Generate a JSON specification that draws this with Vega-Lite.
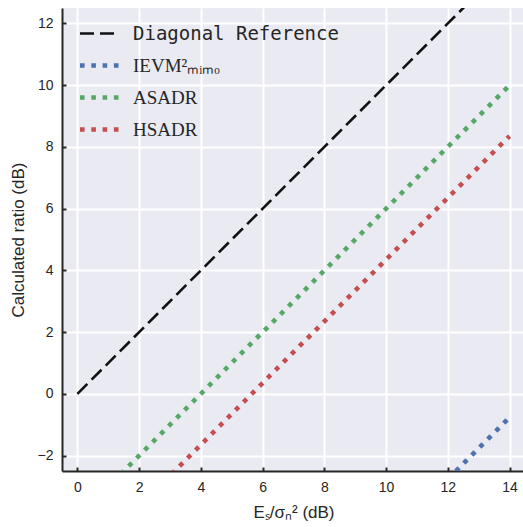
{
  "$schema": "https://vega.github.io/schema/vega-lite/v6.json",
  "width": 463,
  "height": 463,
  "autosize": {"type": "none"},
  "padding": {"left": 62, "top": 8, "right": 0, "bottom": 56},
  "background": "white",
  "config": {"view": {"fill": "#EAEAF2", "stroke": null}},
  "data": {"values": [
    {"series": "Diagonal Reference", "x": 0, "y": 0},
    {"series": "Diagonal Reference", "x": 2, "y": 2},
    {"series": "Diagonal Reference", "x": 4, "y": 4},
    {"series": "Diagonal Reference", "x": 6, "y": 6},
    {"series": "Diagonal Reference", "x": 8, "y": 8},
    {"series": "Diagonal Reference", "x": 10, "y": 10},
    {"series": "Diagonal Reference", "x": 12, "y": 12},
    {"series": "Diagonal Reference", "x": 14, "y": 14},
    {"series": "IEVM²ₘᵢₘₒ", "x": 12, "y": -2.76},
    {"series": "IEVM²ₘᵢₘₒ", "x": 13, "y": -1.76},
    {"series": "IEVM²ₘᵢₘₒ", "x": 14, "y": -0.76},
    {"series": "ASADR", "x": 1.4, "y": -2.6},
    {"series": "ASADR", "x": 2, "y": -2.0},
    {"series": "ASADR", "x": 4, "y": 0.0},
    {"series": "ASADR", "x": 6, "y": 2.0},
    {"series": "ASADR", "x": 8, "y": 4.0},
    {"series": "ASADR", "x": 10, "y": 6.0},
    {"series": "ASADR", "x": 12, "y": 8.0},
    {"series": "ASADR", "x": 14, "y": 10.0},
    {"series": "HSADR", "x": 3.05, "y": -2.6},
    {"series": "HSADR", "x": 4, "y": -1.65},
    {"series": "HSADR", "x": 6, "y": 0.35},
    {"series": "HSADR", "x": 8, "y": 2.35},
    {"series": "HSADR", "x": 10, "y": 4.35},
    {"series": "HSADR", "x": 12, "y": 6.35},
    {"series": "HSADR", "x": 14, "y": 8.35}
  ]},
  "mark": {"type": "line", "clip": true, "strokeCap": "butt"},
  "encoding": {
    "x": {
      "field": "x", "type": "quantitative",
      "scale": {"domain": [-0.5, 14.5], "nice": false, "zero": false},
      "axis": {
        "values": [0, 2, 4, 6, 8, 10, 12, 14],
        "title": "Eₛ/σₙ² (dB)",
        "titleFont": "Liberation Sans", "titleFontSize": 17, "titleFontWeight": "normal", "titleColor": "#262626",
        "titlePadding": 10,
        "labelFont": "Liberation Sans", "labelFontSize": 14, "labelColor": "#262626", "labelPadding": 13,
        "domainColor": "#262626", "domainWidth": 2,
        "tickColor": "#262626", "tickWidth": 2, "tickSize": -4,
        "gridColor": "white", "gridWidth": 2
      }
    },
    "y": {
      "field": "y", "type": "quantitative",
      "scale": {"domain": [-2.5, 12.5], "nice": false, "zero": false},
      "axis": {
        "values": [-2, 0, 2, 4, 6, 8, 10, 12],
        "title": "Calculated ratio (dB)",
        "titleFont": "Liberation Sans", "titleFontSize": 17, "titleFontWeight": "normal", "titleColor": "#262626",
        "titlePadding": 10,
        "labelFont": "Liberation Sans", "labelFontSize": 14, "labelColor": "#262626", "labelPadding": 13,
        "domainColor": "#262626", "domainWidth": 2,
        "tickColor": "#262626", "tickWidth": 2, "tickSize": -4,
        "gridColor": "white", "gridWidth": 2
      }
    },
    "color": {
      "field": "series", "type": "nominal",
      "scale": {"domain": ["Diagonal Reference", "IEVM²ₘᵢₘₒ", "ASADR", "HSADR"], "range": ["#111111", "#4C72B0", "#55A868", "#C44E52"]},
      "legend": {
        "title": null, "orient": "none", "legendX": 28, "legendY": 16,
        "symbolType": "stroke", "symbolSize": 1521, "labelOffset": 24, "rowPadding": 12, "padding": 0,
        "labelFont": "Liberation Serif", "labelFontSize": 19, "labelColor": "#262626", "labelLimit": 400,
        "encode": {
          "labels": {"update": {"font": {"signal": "datum.value === 'Diagonal Reference' ? 'DejaVu Sans Mono' : 'Liberation Serif'"}}},
          "symbols": {"update": {"strokeWidth": {"signal": "datum.value === 'Diagonal Reference' ? 2.6 : 4.6"}}}
        }
      }
    },
    "strokeDash": {
      "field": "series", "type": "nominal",
      "scale": {"domain": ["Diagonal Reference", "IEVM²ₘᵢₘₒ", "ASADR", "HSADR"], "range": [[14, 6], [4.6, 6.7], [4.6, 6.7], [4.6, 6.7]]},
      "legend": {
        "title": null, "orient": "none", "legendX": 28, "legendY": 16,
        "symbolType": "stroke", "symbolSize": 1521, "labelOffset": 24, "rowPadding": 12, "padding": 0,
        "labelFont": "Liberation Serif", "labelFontSize": 19, "labelColor": "#262626", "labelLimit": 400,
        "encode": {
          "labels": {"update": {"font": {"signal": "datum.value === 'Diagonal Reference' ? 'DejaVu Sans Mono' : 'Liberation Serif'"}}},
          "symbols": {"update": {"strokeWidth": {"signal": "datum.value === 'Diagonal Reference' ? 2.6 : 4.6"}}}
        }
      }
    },
    "strokeWidth": {"condition": {"test": "datum.series === 'Diagonal Reference'", "value": 2.6}, "value": 4.6}
  }
}
